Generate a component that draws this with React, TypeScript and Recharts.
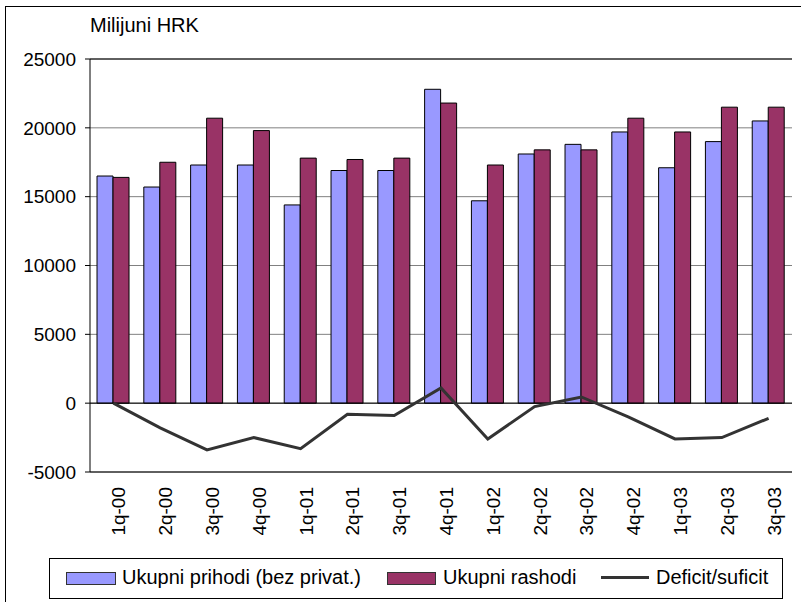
import React from 'react';
import { ComposedChart, Bar, Line, XAxis, YAxis, CartesianGrid, ReferenceLine } from 'recharts';

// quarters 2000-2003, values in millions HRK
const quarters = ['1q-00', '2q-00', '3q-00', '4q-00', '1q-01', '2q-01', '3q-01', '4q-01', '1q-02', '2q-02', '3q-02', '4q-02', '1q-03', '2q-03', '3q-03'];
const prihodi = [16500, 15700, 17300, 17300, 14400, 16900, 16900, 22800, 14700, 18100, 18800, 19700, 17100, 19000, 20500];
const rashodi = [16400, 17500, 20700, 19800, 17800, 17700, 17800, 21800, 17300, 18400, 18400, 20700, 19700, 21500, 21500];
const deficit = [0, -1800, -3400, -2500, -3300, -800, -900, 1100, -2600, -250, 450, -1000, -2600, -2500, -1100];
const yTicks = [-5000, 0, 5000, 10000, 15000, 20000, 25000];

const font = 'Arial, "Liberation Sans", sans-serif';

const data = quarters.map((q, i) => ({ q, prihodi: prihodi[i], rashodi: rashodi[i], deficit: deficit[i] }));

const QuarterTick = (props: any) => {
  const { x, y, payload } = props;
  const ax = x + 12;
  const ay = y + 7;
  return (
    <text x={ax} y={ay} transform={`rotate(-90, ${ax}, ${ay})`} textAnchor="end" fontSize={19} fontFamily={font} fill="#000">
      {payload.value}
    </text>
  );
};

const App: React.FC = () => {
  return (
    <div style={{ position: 'absolute', left: 0, top: 0, width: 801, height: 602, background: '#fff', fontFamily: font }}>
      <div style={{ position: 'absolute', left: 5, top: 6, width: 900, height: 700, borderLeft: '1px solid #000', borderTop: '1px solid #000' }} />
      <div style={{ position: 'absolute', left: 90, top: 14, fontSize: 20, color: '#000' }}>Milijuni HRK</div>

      <div style={{ position: 'absolute', left: 0, top: 0 }}>
        <ComposedChart width={801} height={602} data={data} margin={{ top: 59, right: 9, left: 0, bottom: 60 }} barCategoryGap="15%" barGap={0}>
          <CartesianGrid horizontal vertical={false} stroke="#808080" />
          <XAxis dataKey="q" interval={0} height={70} axisLine={false} tickLine={false} tick={<QuarterTick />} />
          <YAxis width={90} domain={[-5000, 25000]} ticks={yTicks} interval={0} allowDataOverflow
            tick={{ fontSize: 19, fontFamily: font, fill: '#000' }} tickSize={5} tickMargin={9}
            axisLine={{ stroke: '#000' }} tickLine={{ stroke: '#000' }} />
          <YAxis yAxisId="right" orientation="right" width={0} domain={[-5000, 25000]} tick={false} tickLine={false} axisLine={{ stroke: '#000' }} />
          <ReferenceLine y={25000} stroke="#000" />
          <ReferenceLine y={-5000} stroke="#000" />
          <ReferenceLine y={0} stroke="#000" />
          <Bar dataKey="prihodi" fill="#9999FF" stroke="#000" strokeWidth={1} isAnimationActive={false} />
          <Bar dataKey="rashodi" fill="#993366" stroke="#000" strokeWidth={1} isAnimationActive={false} />
          <Line dataKey="deficit" type="linear" stroke="#333333" strokeWidth={3} dot={false} isAnimationActive={false} />
        </ComposedChart>
      </div>

      <div style={{ position: 'absolute', left: 49, top: 558, width: 732, height: 39, border: '1px solid #000', fontSize: 20, color: '#000' }}>
        <div style={{ position: 'absolute', left: 16, top: 13, width: 48, height: 11, background: '#9999FF', border: '1px solid #333' }} />
        <div style={{ position: 'absolute', left: 72, top: 7, whiteSpace: 'nowrap' }}>Ukupni prihodi (bez privat.)</div>
        <div style={{ position: 'absolute', left: 337, top: 13, width: 47, height: 11, background: '#993366', border: '1px solid #333' }} />
        <div style={{ position: 'absolute', left: 393, top: 7, whiteSpace: 'nowrap' }}>Ukupni rashodi</div>
        <div style={{ position: 'absolute', left: 551, top: 17, width: 48, height: 3, background: '#333' }} />
        <div style={{ position: 'absolute', left: 606, top: 7, whiteSpace: 'nowrap' }}>Deficit/suficit</div>
      </div>
    </div>
  );
};

export default App;
